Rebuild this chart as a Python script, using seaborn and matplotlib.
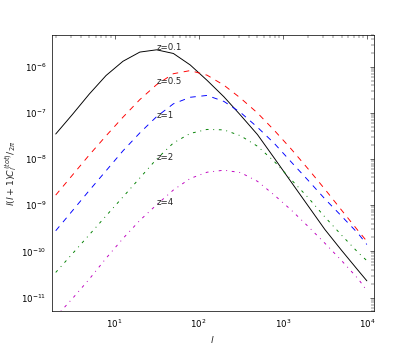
import matplotlib
matplotlib.use("Agg")
import matplotlib.pyplot as plt
import seaborn as sns

# multipole l, shared sampling for all curves
ell = [2.0, 3.16, 5.01, 7.94, 12.6, 20.0, 31.6, 50.1, 79.4, 126, 200,
       316, 501, 794, 1259, 1995, 3162, 5012, 7943, 10000]

# l(l+1)C_l/2pi, one list per redshift
cl_z01 = [3.5e-8, 9.3e-8, 2.57e-7, 6.5e-7, 1.32e-6, 2.09e-6, 2.34e-6, 1.95e-6,
          1.10e-6, 5.1e-7, 2.24e-7, 8.9e-8, 3.4e-8, 1.05e-8, 3.2e-9, 9.8e-10,
          3.0e-10, 1.05e-10, 3.8e-11, 2.3e-11]
cl_z05 = [1.66e-9, 4.5e-9, 1.23e-8, 3.2e-8, 8.1e-8, 1.95e-7, 4.1e-7, 7.1e-7,
          8.3e-7, 6.6e-7, 4.0e-7, 2.09e-7, 1.0e-7, 4.2e-8, 1.66e-8, 6.2e-9,
          2.24e-9, 7.8e-10, 2.75e-10, 1.66e-10]
cl_z1 = [2.8e-10, 7.6e-10, 2.09e-9, 5.6e-9, 1.51e-8, 3.7e-8, 8.3e-8, 1.58e-7,
         2.19e-7, 2.4e-7, 1.78e-7, 1.02e-7, 4.9e-8, 2.19e-8, 8.7e-9, 3.5e-9,
         1.38e-9, 5.8e-10, 2.4e-10, 1.41e-10]
cl_z2 = [3.5e-11, 8.9e-11, 2.29e-10, 5.9e-10, 1.51e-9, 3.9e-9, 1.0e-8, 2.24e-8,
         3.6e-8, 4.4e-8, 4.3e-8, 3.2e-8, 1.9e-8, 8.9e-9, 3.6e-9, 1.48e-9,
         5.6e-10, 2.24e-10, 9.3e-11, 6.3e-11]
cl_z4 = [3.8e-12, 9.5e-12, 2.5e-11, 7.1e-11, 1.9e-10, 4.7e-10, 1.02e-9, 2.14e-9,
         3.8e-9, 5.2e-9, 5.75e-9, 5.1e-9, 3.3e-9, 1.66e-9, 7.9e-10, 3.5e-10,
         1.51e-10, 6.3e-11, 2.5e-11, 1.41e-11]

labels = ["z=0.1", "z=0.5", "z=1", "z=2", "z=4"]
label_l = 31.6
label_y = [2.6e-6, 4.7e-7, 8.9e-8, 1.08e-8, 1.12e-9]

x_ticks = [1e1, 1e2, 1e3, 1e4]
y_ticks = [1e-11, 1e-10, 1e-9, 1e-8, 1e-7, 1e-6]

sns.set_style("white")
plt.rcParams.update({
    "font.family": ["DejaVu Sans"],
    "font.size": 12,
    "xtick.direction": "in",
    "ytick.direction": "in",
    "xtick.top": True,
    "ytick.right": True,
    "xtick.major.size": 6,
    "ytick.major.size": 6,
    "xtick.minor.size": 3.5,
    "ytick.minor.size": 3.5,
    "xtick.major.pad": 8,
    "ytick.major.pad": 8,
    "axes.edgecolor": "black",
    "axes.linewidth": 1.0,
})

fig, ax = plt.subplots(figsize=(415 / 52, 346 / 52), dpi=52)
fig.subplots_adjust(left=0.125, right=0.9, bottom=0.1, top=0.9)

# (values, colour, dash pattern) -- classic matplotlib dashes
styles = [
    (cl_z01, "black", None),
    (cl_z05, "red", (6, 6)),
    (cl_z1, "blue", (6, 6)),
    (cl_z2, "green", (3, 5, 1, 5)),
    (cl_z4, "#bf00bf", (3, 5, 1, 5)),
]
for values, color, dash in styles:
    sns.lineplot(x=ell, y=values, color=color, lw=1.3, ax=ax,
                 estimator=None, sort=False)
    if dash is not None:
        ax.lines[-1].set_dashes(dash)

for text, y in zip(labels, label_y):
    ax.text(label_l, y, text, ha="left", va="center", fontsize=12)

ax.set_xscale("log")
ax.set_yscale("log")
ax.set_xticks(x_ticks)
ax.set_yticks(y_ticks)
ax.set_xlim(1.8, 1.2e4)
ax.set_ylim(5e-12, 5e-6)
ax.set_xlabel(r"$l$", fontsize=13)
ax.set_ylabel(r"$l(l+1)C_l^{(tot)}/_{2\pi}$", fontsize=13)
ax.yaxis.set_label_coords(-0.1, 0.5)
ax.xaxis.set_label_coords(0.5, -0.08)
ax.tick_params(which="both", colors="black", labelsize=12)
for s in ax.spines.values():
    s.set_visible(True)

fig.savefig("out.png", dpi=52)
